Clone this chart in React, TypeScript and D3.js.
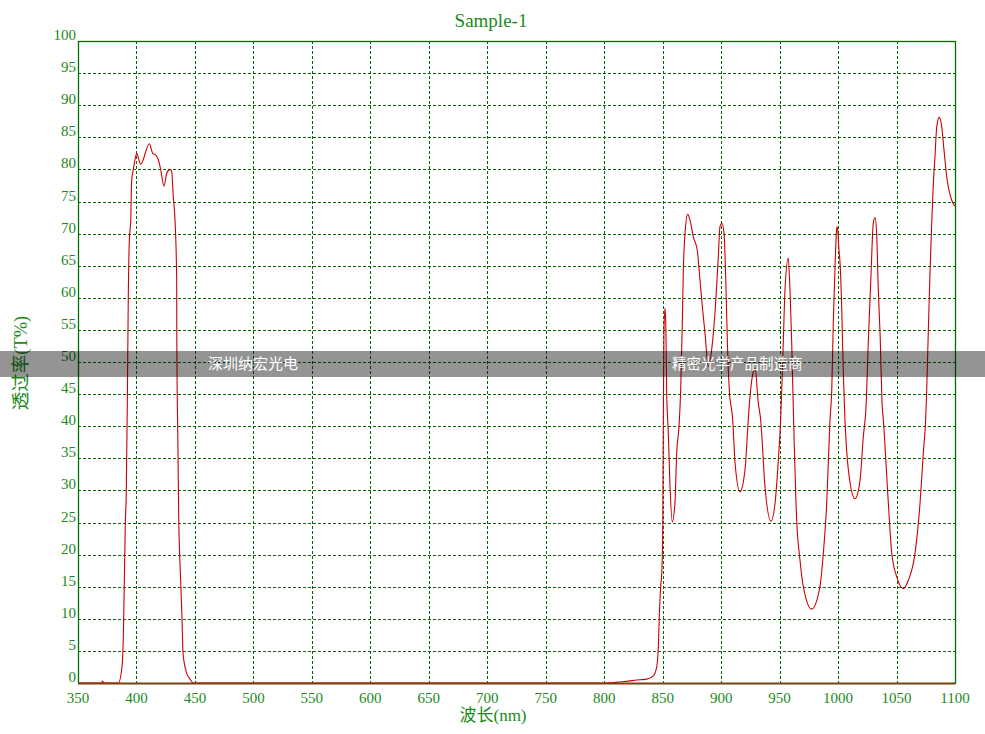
import React from "react";
import * as d3 from "d3";

const title = "Sample-1";
const xLabel = "波长(nm)";
const yLabel = "透过率(T%)";
const watermarkLeft = "深圳纳宏光电";
const watermarkRight = "精密光学产品制造商";

const xTicks = [350, 400, 450, 500, 550, 600, 650, 700, 750, 800, 850, 900, 950, 1000, 1050, 1100];
const yTicks = [0, 5, 10, 15, 20, 25, 30, 35, 40, 45, 50, 55, 60, 65, 70, 75, 80, 85, 90, 95, 100];

const wavelength = [
  350, 370, 371, 372, 384.5, 387.6, 388.7, 389.6, 390.4, 391.3, 392.2, 393.0, 393.9, 395.1, 395.9, 397.3,
  399.3, 400.2, 403.6, 411.0, 413.9, 416.7, 418.7, 420.7, 423.5, 425.9, 428.7, 430.1, 431.5, 433.0,
  434.4, 434.5, 434.9, 435.3, 436.1, 437.2, 438.1, 438.9, 439.8, 440.9, 443.0, 445.8, 448.6,
  600, 800, 815, 830.6, 836.3, 842.0, 844.9, 846.3, 847.1, 848.3, 849.2, 850.0, 850.5, 851.1, 852.0,
  852.8, 853.4, 854.8, 856.3, 858.2, 860.5, 862.0, 864.0, 865.4, 866.8, 867.6, 869.1, 871.4, 873.4,
  876.2, 879.6, 881.9, 884.2, 886.2, 889.0, 891.9, 894.7, 897.6, 899.0, 900.7, 902.5, 904.2, 905.3,
  907.0, 909.9, 911.9, 916.1, 920.4, 923.2, 924.7, 927.5, 929.0, 931.8, 933.8, 937.5, 942.6, 946.1,
  948.9, 950.9, 951.8, 953.2, 954.6, 957.4, 958.9, 960.3, 961.7, 964.6, 967.4, 970.3, 977.4, 984.5,
  987.4, 990.3, 993.1, 994.6, 995.9, 997.4, 998.8, 999.3, 1000.8, 1001.7, 1003.1, 1004.5, 1005.9,
  1008.8, 1014.5, 1018.8, 1021.6, 1023.9, 1025.9, 1028.2, 1030.1, 1031.6, 1033.0, 1034.4, 1035.9,
  1037.8, 1038.7, 1043.0, 1045.9, 1050.1, 1055.8, 1060.1, 1065.8, 1070.1, 1072.9, 1074.9, 1075.8,
  1077.2, 1078.6, 1080.1, 1081.4, 1082.9, 1084.4, 1086.6, 1088.6, 1090.6, 1092.9, 1097.2, 1100,
];

const transmittance = [
  0, 0, 0.3, 0, 0, 2.5, 6.7, 15.6, 24.3, 30, 44, 60, 69, 72, 78.3, 80,
  82, 82.5, 80.8, 84.0, 82.5, 82.2, 81.5, 80, 77.4, 79.4, 80.0, 79.7, 75.7, 72,
  62.8, 53.4, 44, 39.4, 26.2, 18.7, 14.5, 10.3, 4.7, 3.1, 1.5, 0.6, 0,
  0, 0, 0.2, 0.5, 0.6, 1.1, 2.5, 5.7, 10.3, 15, 17, 23, 39.4, 54.5, 58.4,
  55, 45.6, 39, 30.6, 25.1, 28, 35.8, 40, 45.6, 56, 63.8, 70, 73, 72.1,
  69.5, 67.4, 62.8, 58.1, 54.5, 49.3, 51.9, 57.6, 66.4, 71.1, 71.6, 70, 61.2, 53.4,
  45.6, 41, 34.3, 29.8, 33.2, 41, 44.6, 48.5, 49, 43.6, 41, 30.6, 25.2, 28,
  34.7, 41, 45.6, 53.4, 61.2, 66.2, 61.2, 53.4, 43, 25.4, 19.2, 15, 11.5, 15,
  20.2, 28, 41, 45.6, 56, 64.8, 70.7, 71.1, 67.4, 65.4, 58.6, 48.2, 41,
  33.2, 28.7, 31.6, 38.4, 43, 53.4, 63.8, 71.6, 72.5, 70, 61.2, 54.5,
  43, 41, 28, 20.2, 16.6, 14.7, 16, 20.2, 28, 35.8, 41, 45.6,
  55, 63.8, 71.6, 77.5, 82, 86.7, 88.1, 86.7, 83, 78.9, 75.2, 74.3,
];

const W = 985;
const H = 734;
const left = 78;
const right = 955;
const top = 41;
const bottom = 683;
const green = "#007000";
const gridGreen = "#0a650a";
const textGreen = "#1a8a1a";
const serif = "'Liberation Serif', 'DejaVu Serif', serif";

export default function App() {
  const x = d3.scaleLinear().domain([350, 1100]).range([left, right]);
  const y = d3.scaleLinear().domain([0, 100]).range([bottom, top]);
  const data = wavelength.map((w, i) => [w, transmittance[i]] as [number, number]);
  const line = d3
    .line<[number, number]>()
    .x((d) => x(d[0]))
    .y((d) => y(d[1]))
    .curve(d3.curveMonotoneX);

  return (
    <svg
      width={W}
      height={H}
      style={{ position: "absolute", left: 0, top: 0, background: "#fff" }}
    >
      <rect x={0} y={0} width={W} height={H} fill="#fff" />
      {xTicks.slice(1, -1).map((t) => (
        <line
          key={"gx" + t}
          x1={Math.round(x(t)) + 0.5}
          x2={Math.round(x(t)) + 0.5}
          y1={top}
          y2={bottom}
          stroke={gridGreen}
          strokeWidth={1}
          strokeDasharray="3,2"
        />
      ))}
      {yTicks.slice(1, -1).map((t) => (
        <line
          key={"gy" + t}
          x1={left}
          x2={right}
          y1={Math.round(y(t)) + 0.5}
          y2={Math.round(y(t)) + 0.5}
          stroke={gridGreen}
          strokeWidth={1}
          strokeDasharray="3,2"
        />
      ))}
      <rect
        x={left + 0.5}
        y={top + 0.5}
        width={right - left}
        height={bottom - top}
        fill="none"
        stroke={green}
        strokeWidth={1.3}
      />
      <path d={line(data) || ""} fill="none" stroke="#cc0000" strokeWidth={1.1} />
      <line x1={left} x2={right} y1={bottom + 0.5} y2={bottom + 0.5} stroke="#8b3a12" strokeWidth={2} opacity={0.85} />
      {yTicks.map((t) => (
        <text
          key={"yl" + t}
          x={left - 2}
          y={y(t) - 1}
          textAnchor="end"
          fontFamily={serif}
          fontSize={15}
          fill={textGreen}
        >
          {t}
        </text>
      ))}
      {xTicks.map((t) => (
        <text
          key={"xl" + t}
          x={x(t)}
          y={bottom + 20}
          textAnchor="middle"
          fontFamily={serif}
          fontSize={15}
          fill={textGreen}
        >
          {t}
        </text>
      ))}
      <text
        x={491}
        y={27}
        textAnchor="middle"
        fontFamily={serif}
        fontSize={19}
        fill={textGreen}
      >
        {title}
      </text>
      <text
        x={493}
        y={721}
        textAnchor="middle"
        fontFamily="'Liberation Serif', 'Noto Sans CJK SC', serif"
        fontSize={17}
        fill={textGreen}
      >
        {xLabel}
      </text>
      <text
        transform={`translate(27, 363) rotate(-90)`}
        textAnchor="middle"
        fontFamily="'Liberation Serif', 'Noto Sans CJK SC', serif"
        fontSize={18.5}
        fill={textGreen}
      >
        {yLabel}
      </text>
      <rect x={0} y={351} width={W} height={26} fill="#000" opacity={0.42} />
      <text
        x={208}
        y={369}
        fontFamily="'Noto Sans CJK SC', sans-serif"
        fontSize={15}
        fill="#fff"
      >
        {watermarkLeft}
      </text>
      <text
        x={672}
        y={369}
        fontFamily="'Noto Sans CJK SC', sans-serif"
        fontSize={14.5}
        fill="#fff"
      >
        {watermarkRight}
      </text>
    </svg>
  );
}
